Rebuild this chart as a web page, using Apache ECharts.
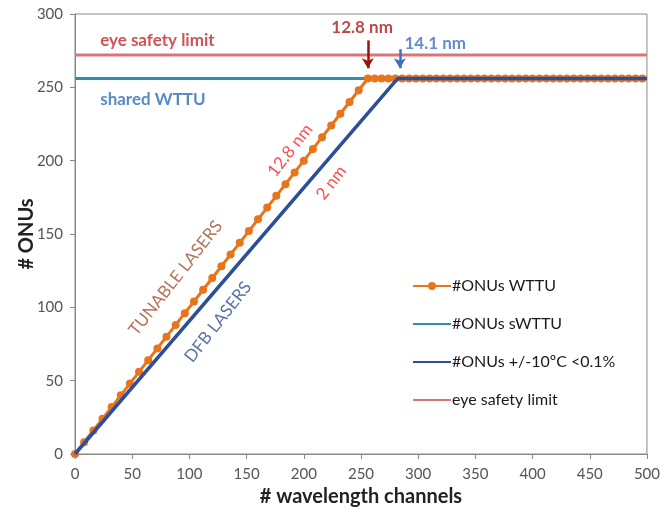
<!DOCTYPE html>
<html>
<head>
<meta charset="utf-8">
<script src="https://cdn.jsdelivr.net/npm/echarts@6/dist/echarts.min.js"></script>
<style>
html,body{margin:0;padding:0;background:#fff;}
#c{width:663px;height:514px;}
</style>
</head>
<body>
<div id="c"></div>
<script>
// ---- data ----
const wttuX = [0,8,16,24,32,40,48,56,64,72,80,88,96,104,112,120,128,136,144,152,160,168,176,184,192,200,208,216,224,232,240,248,256,
  262,268,274,280,286,292,298,304,310,316,322,328,334,340,346,352,358,364,370,376,382,388,394,400,406,412,418,424,430,436,442,448,454,460,466,472,478,484,490,496];
const wttuY = [0,8,16,24,32,40,48,56,64,72,80,88,96,104,112,120,128,136,144,152,160,168,176,184,192,200,208,216,224,232,240,248,256,
  256,256,256,256,256,256,256,256,256,256,256,256,256,256,256,256,256,256,256,256,256,256,256,256,256,256,256,256,256,256,256,256,256,256,256,256,256,256,256,256];
const dfbX = [0, 282, 500];
const dfbY = [0, 256, 256];
const swttuX = [0, 500];
const swttuY = [256, 256];
const eyeX = [0, 500];
const eyeY = [272, 272];
const xTicks = [0,50,100,150,200,250,300,350,400,450,500];
const yTicks = [0,50,100,150,200,250,300];
const seriesNames = ['#ONUs WTTU', '#ONUs sWTTU', '#ONUs +/-10ºC <0.1%', 'eye safety limit'];
// annotations: [text, x, y, color, rotate, align]
const notes = [
  ['eye safety limit', 22, 282, '#c0282d', 0, 'left'],
  ['shared WTTU', 22, 242, '#2e6db4', 0, 'left'],
  ['12.8 nm', 251, 291, '#b01818', 0, 'center'],
  ['14.1 nm', 288, 280, '#3a70c0', 0, 'left'],
  ['12.8 nm', 188, 207, '#ff2020', 52, 'center'],
  ['2 nm', 224, 185, '#ff2020', 52, 'center'],
  ['TUNABLE LASERS', 88, 120, '#a0502e', 52, 'center'],
  ['DFB LASERS', 125, 90, '#2f4f8f', 52, 'center']
];
// arrows: [x, yFrom, yTo, color]
const arrows = [
  [256, 282, 263, '#a01010'],
  [284, 276, 263, '#3a70c0']
];

const zip = (a, b) => a.map((v, i) => [v, b[i]]);
const FONT = 'Lato, "Open Sans", sans-serif';

const chart = echarts.init(document.getElementById('c'), null, {renderer: 'canvas'});
chart.setOption({
  animation: false,
  backgroundColor: '#fff',
  grid: {left: 75, right: 15, top: 14, bottom: 60, show: true, borderColor: '#888', borderWidth: 1},
  xAxis: {
    type: 'value', min: xTicks[0], max: xTicks[xTicks.length - 1], interval: xTicks[1] - xTicks[0],
    name: '# wavelength channels', nameLocation: 'middle', nameGap: 31,
    nameTextStyle: {fontFamily: FONT, fontWeight: 'bold', fontSize: 20, color: '#222'},
    axisLine: {lineStyle: {color: '#888'}},
    axisTick: {show: true, length: 5, lineStyle: {color: '#888'}},
    axisLabel: {fontFamily: FONT, fontSize: 15, color: '#555', margin: 13},
    splitLine: {show: false}
  },
  yAxis: {
    type: 'value', min: yTicks[0], max: yTicks[yTicks.length - 1], interval: yTicks[1] - yTicks[0],
    name: '# ONUs', nameLocation: 'middle', nameGap: 38, nameRotate: 90, nameMoveOverlap: false,
    nameTextStyle: {fontFamily: FONT, fontWeight: 'bold', fontSize: 20, color: '#222'},
    axisLine: {show: true, lineStyle: {color: '#888'}},
    axisTick: {show: true, length: 5, lineStyle: {color: '#888'}},
    axisLabel: {fontFamily: FONT, fontSize: 15, color: '#555', margin: 12},
    splitLine: {show: false}
  },
  legend: {
    orient: 'vertical', left: 407, top: 273, itemGap: 22, itemWidth: 38, itemHeight: 10,
    data: seriesNames.map((n, i) => i === 0 ? {name: n} : {name: n, itemStyle: {opacity: 0}}),
    textStyle: {fontFamily: FONT, fontSize: 16, color: '#1a1a1a', padding: [0, 0, 0, -4]}
  },
  series: [
    {
      name: seriesNames[1], type: 'line', data: zip(swttuX, swttuY), symbol: 'none', z: 2,
      lineStyle: {color: '#2f8fae', width: 3}, itemStyle: {color: '#2f8fae'}
    },
    {
      name: seriesNames[3], type: 'line', data: zip(eyeX, eyeY), symbol: 'none', z: 2,
      lineStyle: {color: '#d7767a', width: 3}, itemStyle: {color: '#d7767a'}
    },
    {
      name: seriesNames[0], type: 'line', data: zip(wttuX, wttuY), symbol: 'circle', symbolSize: 8, z: 3,
      lineStyle: {color: '#e8741c', width: 3}, itemStyle: {color: '#e8741c'}
    },
    {
      name: seriesNames[2], type: 'line', data: zip(dfbX, dfbY), symbol: 'none', z: 4,
      lineStyle: {color: '#2b4f9a', width: 3.5}, itemStyle: {color: '#2b4f9a'},
      markLine: {
        silent: true, symbol: ['none', 'arrow'], symbolSize: [9, 10],
        label: {show: false},
        data: arrows.map(a => [
          {coord: [a[0], a[1]], lineStyle: {color: a[3], width: 2.5, type: 'solid'}, itemStyle: {color: a[3]}},
          {coord: [a[0], a[2]]}
        ])
      }
    },
    {
      name: 'notes', type: 'scatter', symbol: 'circle', symbolSize: 1, z: 6, silent: true,
      itemStyle: {color: 'rgba(0,0,0,0)'},
      data: notes.map(n => ({
        value: [n[1], n[2]],
        label: {
          show: true, position: 'inside', formatter: n[0], rotate: n[4], align: n[5],
          verticalAlign: 'middle', color: n[3], fontFamily: FONT, fontSize: 17,
          fontWeight: n[4] === 0 ? 'bold' : 'normal'
        }
      }))
    }
  ]
});
</script>
</body>
</html>
